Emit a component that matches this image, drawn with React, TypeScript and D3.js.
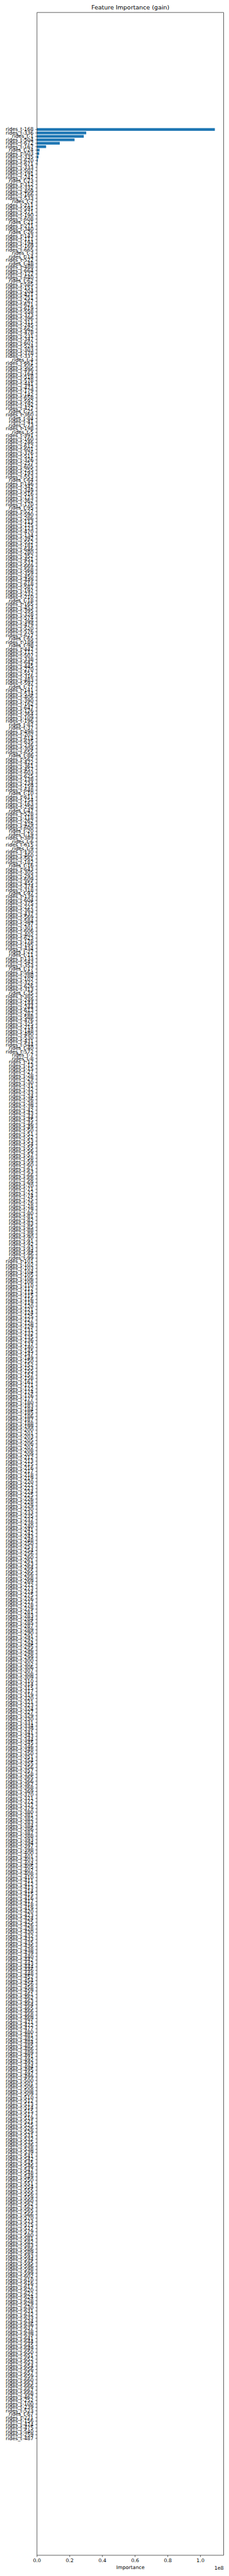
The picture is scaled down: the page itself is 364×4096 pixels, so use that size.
import React from 'react';
import * as d3 from 'd3';

// ---------------- data ----------------
const TITLE = 'Feature Importance (gain)';
const X_LABEL = 'Importance';
const X_OFFSET_LABEL = '1e8';
const X_TICKS = [0, 0.2, 0.4, 0.6, 0.8, 1.0];
const FEATURE_PREFIX = 'rides_t-';
const N_FEATURES = 672;

// lags of the top-ranked features, in order from the top of the chart
const TOP_LAGS = [
  168, 336, 1, 504, 672, 167, 24, 503, 335, 670, 671, 333, 502, 191, 247, 23, 312, 332, 409, 166,
  533, 2, 211, 591, 571, 190, 608, 21, 271, 340, 26, 143, 111, 194, 169, 665, 3, 14, 522, 48,
  488, 664, 122, 640, 62, 585, 151, 204, 421, 251, 267, 621, 619, 558,
  373, 396, 311, 245, 662, 478, 231, 347, 607, 524, 303, 378, 337, 4, 661, 505, 496, 164, 518, 578,
  441, 473, 179, 142, 658, 592, 192, 427, 25, 360, 84, 41, 73, 198, 5, 391, 160, 246, 612, 601,
  376, 511, 326, 257, 605, 255, 193, 553, 64, 146, 342, 349, 516, 123,
  362, 170, 95, 527, 590, 286, 113, 175, 173, 470, 134, 392, 552, 181, 646, 280, 352, 451, 537, 669,
  568, 359, 450, 449, 618, 587, 197, 232, 210, 18, 165, 453, 395, 328, 574, 399, 479, 520, 576, 627,
  65, 189, 98, 447, 117, 507, 338, 642, 445, 270, 557, 316, 483,
  597, 77, 141, 534, 406, 390, 162, 647, 126, 364, 109, 196, 87, 37, 498, 202, 614, 635, 236, 304,
  655, 86, 567, 422, 361, 457, 603, 625, 138, 234, 159, 648, 10, 611, 154, 163, 258, 47, 528, 118,
  262, 429, 600, 20, 19, 389, 6, 615, 9, 130, 460, 561, 182, 16,
  643, 305, 293, 609, 455, 374, 318, 97, 139, 604, 375, 227, 363, 437, 569, 584, 297, 301, 606, 402,
  623, 178, 195, 434, 22, 11, 133, 543, 353, 17, 564, 288, 107, 322, 626, 313, 35, 385, 249, 144,
  244, 613, 282, 588, 476, 325, 214, 148, 490, 530, 431, 544, 40, 572,
];

// lags of the lowest-ranked features, at the bottom of the chart
const BOTTOM_LAGS = [467, 252, 100, 239, 523, 67, 221, 156, 474, 475, 540, 259, 487];

// gain (x 1e8) of the bars that are visible; every other bar reads as 0
const TOP_GAINS = [1.088, 0.301, 0.286, 0.2296, 0.139, 0.0555, 0.0154, 0.0132, 0.0088, 0.0044, 0.0022];

// The middle block of labels is too dense to read at the available resolution;
// it holds the remaining lags (the ones not read above).
const seen = new Set([...TOP_LAGS, ...BOTTOM_LAGS]);
const MIDDLE_LAGS = d3.range(1, N_FEATURES + 1).filter((n) => !seen.has(n));

const LAGS = [...TOP_LAGS, ...MIDDLE_LAGS, ...BOTTOM_LAGS];
const FEATURES = LAGS.map((l) => FEATURE_PREFIX + l);
const GAINS = FEATURES.map((_, i) => (i < TOP_GAINS.length ? TOP_GAINS[i] : 0));

// ---------------- layout (reference pixels) ----------------
const W = 640;
const H = 7200;
const M = { left: 103.5, right: 625.3, top: 35, bottom: 7142 };
const FONT = '"DejaVu Sans", Verdana, sans-serif';
const FS = 13.9;
const TICK = 4.86;
const PAD = 4.86;
const BAR = '#1f77b4';

export default function App() {
  const n = FEATURES.length;
  const maxGain = d3.max(GAINS) as number;
  const x = d3.scaleLinear().domain([0, maxGain * 1.05]).range([M.left, M.right]);
  const span = n - 1 + 0.8;
  const marg = 0.05 * span;
  const y = d3
    .scaleLinear()
    .domain([-0.4 - marg, n - 1 + 0.4 + marg])
    .range([M.top, M.bottom]);
  const barH = y(0.4) - y(-0.4);
  const cx = (M.left + M.right) / 2;

  return (
    <svg
      width={364}
      height={4096}
      viewBox={`0 0 ${W} ${H}`}
      preserveAspectRatio="none"
      style={{ position: 'absolute', left: 0, top: 0, display: 'block', background: '#fff' }}
      fontFamily={FONT}
    >
      <rect x={0} y={0} width={W} height={H} fill="#fff" />
      <text x={cx} y={26.7} fontSize={16.7} textAnchor="middle" fill="#000">
        {TITLE}
      </text>

      {/* bars */}
      {GAINS.map((g, i) =>
        g > 0 ? (
          <rect
            key={'b' + i}
            x={x(0)}
            y={y(i) - barH / 2}
            width={x(g) - x(0)}
            height={barH}
            fill={BAR}
          />
        ) : null
      )}

      {/* y ticks and labels */}
      {FEATURES.map((f, i) => (
        <g key={'y' + i}>
          <line x1={M.left - TICK} x2={M.left} y1={y(i)} y2={y(i)} stroke="#000" strokeWidth={1.1} />
          <text
            x={M.left - TICK - PAD}
            y={y(i)}
            fontSize={FS}
            textAnchor="end"
            dominantBaseline="central"
            fill="#000"
          >
            {f}
          </text>
        </g>
      ))}

      {/* x ticks */}
      {X_TICKS.map((t) => (
        <g key={'x' + t}>
          <line x1={x(t)} x2={x(t)} y1={M.bottom} y2={M.bottom + TICK} stroke="#000" strokeWidth={1.1} />
          <text x={x(t)} y={7162} fontSize={FS} textAnchor="middle" fill="#000">
            {d3.format('.1f')(t)}
          </text>
        </g>
      ))}

      <text x={cx} y={7181.5} fontSize={FS} textAnchor="middle" fill="#000">
        {X_LABEL}
      </text>
      <text x={M.right} y={7181.7} fontSize={FS} textAnchor="end" fill="#000">
        {X_OFFSET_LABEL}
      </text>

      {/* spines */}
      <rect
        x={M.left}
        y={M.top}
        width={M.right - M.left}
        height={M.bottom - M.top}
        fill="none"
        stroke="#000"
        strokeWidth={1.1}
      />
    </svg>
  );
}
